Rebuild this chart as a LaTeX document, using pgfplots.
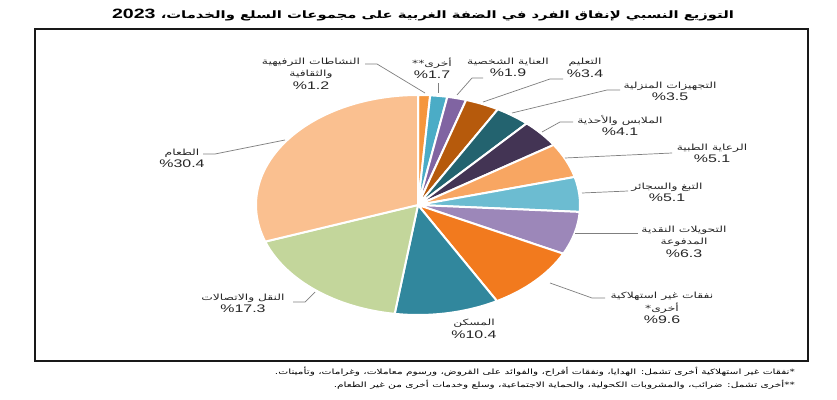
\documentclass[border=0pt]{standalone}
\usepackage{fontspec}
\usepackage{pgfplots}
\usepackage{pgfplotstable}
\pgfplotsset{compat=1.18}
\setmainfont{Liberation Sans}[FakeStretch=1.45]
\newfontfamily\ar[Script=Arabic,FakeStretch=1.45]{DejaVu Sans}
\TeXXeTstate=1

\definecolor{c0}{HTML}{F5963C}
\definecolor{c1}{HTML}{4BACC6}
\definecolor{c2}{HTML}{8064A2}
\definecolor{c3}{HTML}{B65A0C}
\definecolor{c4}{HTML}{23636F}
\definecolor{c5}{HTML}{433454}
\definecolor{c6}{HTML}{F8A662}
\definecolor{c7}{HTML}{6CBCD1}
\definecolor{c8}{HTML}{9C87B9}
\definecolor{c9}{HTML}{F27A1E}
\definecolor{c10}{HTML}{31879D}
\definecolor{c11}{HTML}{C3D69B}
\definecolor{c12}{HTML}{FAC090}
\definecolor{leader}{HTML}{7F7F7F}

% share of spending, clockwise from the top
\pgfplotstableread{
val
1.2
1.7
1.9
3.4
3.5
4.1
5.1
5.1
6.3
9.6
10.4
17.3
30.4
}\piedata

\newcommand{\R}[1]{\beginR #1\endR}
\newcommand{\N}[1]{{\normalfont\fontsize{11}{12.5}\selectfont #1}}

\begin{document}
\begin{tikzpicture}[lbl/.style={align=center, text=black!85, font=\ar\fontsize{8.5}{12.5}\selectfont, inner sep=0pt}]
\path[use as bounding box] (0,0) rectangle (837pt,399pt);
\begin{axis}[
  x=1pt, y=1pt, xmin=0, xmax=837, ymin=0, ymax=399,
  hide axis, clip=false, anchor=origin, at={(0,0)},
]
\pgfmathsetmacro\cum{0}
\pgfplotsforeachungrouped \i in {0,...,12}{
  \pgfplotstablegetelem{\i}{val}\of\piedata
  \pgfmathsetmacro\a{90-3.6*\cum}
  \pgfmathsetmacro\cum{\cum+\pgfplotsretval}
  \pgfmathsetmacro\b{90-3.6*\cum}
  \pgfmathsetmacro\sx{418+162*cos(\a)}
  \pgfmathsetmacro\sy{194+110*sin(\a)}
  \edef\temp{\noexpand\fill[fill=c\i, draw=white, line width=2pt, line join=round] (axis cs:418,194) -- (axis cs:\sx,\sy) arc[start angle=\a, end angle=\b, x radius=162pt, y radius=110pt] -- cycle;}
  \temp
}

% frame
\draw[line width=1.6pt, black!90] (axis cs:35,38) rectangle (axis cs:808,370);

% title
\node[font=\ar\bfseries\fontsize{10.2}{12}\selectfont, inner sep=0pt] at (axis cs:423,384)
  {\beginR التوزيع النسبي لإنفاق الفرد في الضفة الغربية على مجموعات السلع والخدمات، \beginL{\normalfont\bfseries\fontsize{13.5}{14}\selectfont 2023}\endL\endR};

% leader lines
\begin{scope}[leader, line width=0.7pt]
\draw (axis cs:285,259) -- (axis cs:215,245) -- (axis cs:203,245);
\draw (axis cs:315,107) -- (axis cs:305,97) -- (axis cs:293,97);
\draw (axis cs:425,306) -- (axis cs:377,335) -- (axis cs:365,335);
\draw (axis cs:438,306) -- (axis cs:438,316);
\draw (axis cs:457,304) -- (axis cs:472,321) -- (axis cs:483,321);
\draw (axis cs:483,297) -- (axis cs:550,320) -- (axis cs:563,320);
\draw (axis cs:512,286) -- (axis cs:607,309) -- (axis cs:620,309);
\draw (axis cs:542,267) -- (axis cs:560,277) -- (axis cs:573,277);
\draw (axis cs:565,241) -- (axis cs:672,246);
\draw (axis cs:582,206) -- (axis cs:628,208);
\draw (axis cs:575,166) -- (axis cs:638,166);
\draw (axis cs:550,116) -- (axis cs:592,101) -- (axis cs:605,101);
\end{scope}

% labels
\node[lbl] at (axis cs:311,325.5) {\R{النشاطات الترفيهية}\\\R{والثقافية}\\\N{\%1.2}};
\node[lbl] at (axis cs:432,330.5) {\R{أخرى**}\\\N{\%1.7}};
\node[lbl] at (axis cs:508,331.5) {\R{العناية الشخصية}\\\N{\%1.9}};
\node[lbl] at (axis cs:585,331) {\R{التعليم}\\\N{\%3.4}};
\node[lbl] at (axis cs:670,307.5) {\R{التجهيزات المنزلية}\\\N{\%3.5}};
\node[lbl] at (axis cs:620,273.5) {\R{الملابس والأحذية}\\\N{\%4.1}};
\node[lbl] at (axis cs:712,245.5) {\R{الرعاية الطبية}\\\N{\%5.1}};
\node[lbl] at (axis cs:667,206.5) {\R{التبغ والسجائر}\\\N{\%5.1}};
\node[lbl] at (axis cs:684,157.5) {\R{التحويلات النقدية}\\\R{المدفوعة}\\\N{\%6.3}};
\node[lbl] at (axis cs:662,91) {\R{نفقات غير استهلاكية}\\\R{أخرى*}\\\N{\%9.6}};
\node[lbl] at (axis cs:474,70) {\R{المسكن}\\\N{\%10.4}};
\node[lbl] at (axis cs:243,95.5) {\R{النقل والاتصالات}\\\N{\%17.3}};
\node[lbl] at (axis cs:182,240.5) {\R{الطعام}\\\N{\%30.4}};

% footnotes
\node[anchor=east, inner sep=0pt, font=\ar\fontsize{7.3}{8}\selectfont] at (axis cs:795,27)
  {\beginR *نفقات غير استهلاكية أخرى تشمل: الهدايا، ونفقات أفراح، والفوائد على القروض، ورسوم معاملات، وغرامات، وتأمينات.\endR};
\node[anchor=east, inner sep=0pt, font=\ar\fontsize{7.3}{8}\selectfont] at (axis cs:795,14)
  {\beginR **أخرى تشمل: ضرائب، والمشروبات الكحولية، والحماية الاجتماعية، وسلع وخدمات أخرى من غير الطعام.\endR};
\end{axis}
\end{tikzpicture}
\end{document}
